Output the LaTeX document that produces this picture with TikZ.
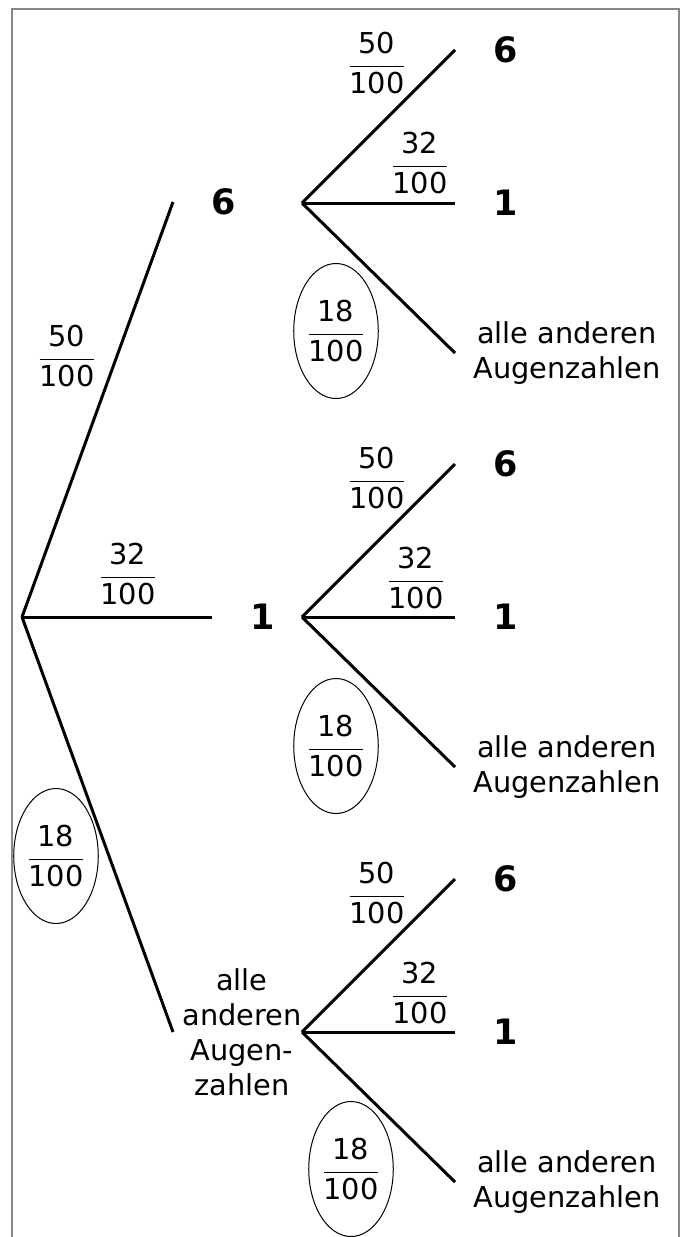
\documentclass[tikz,border=0pt]{standalone}
\usepackage{amsmath}
\usepackage{fontspec}
\setmainfont{DejaVu Sans}
\usepackage{tikz}
\usetikzlibrary{shapes.geometric,positioning}
\usepackage{xcolor}
\definecolor{rahmengrau}{RGB}{136,136,136}
\newcommand{\anteil}[2]{$\dfrac{\text{#1}}{\text{#2}}$}
\tikzstyle{ast} = [line width=1.5pt, black]
\tikzstyle{ergebnis} = [font=\fontsize{17.5}{21}\selectfont\bfseries, anchor=west, inner xsep=19pt, inner ysep=0pt]
\tikzstyle{restbox} = [align=center, anchor=west, inner xsep=9pt, font=\fontsize{14.4}{17.5}\selectfont]
\tikzstyle{wkeit} = [inner sep=0pt, font=\fontsize{14.4}{17.5}\selectfont]
\tikzstyle{kreis} = [wkeit, ellipse, draw, line width=0.5pt, minimum width=38.5pt, minimum height=67.5pt]

\begin{document}
\begin{tikzpicture}[x=0.5pt, y=-0.5pt]
\useasboundingbox (0,0) rectangle (688,1237);
% Rahmen
\draw[rahmengrau, line width=0.6pt] (12,1237) |- (679,9) -- (679,1237);

% erste Stufe
\coordinate (start) at (22,617);
\node (s6) [ergebnis] at (173,202) {6};
\node (s1) [ergebnis] at (212,617) {1};
\node (sR) [restbox, inner xsep=4.5pt] at (173,1032) {alle\\anderen\\Augen-\\zahlen};
\draw[ast] (start) -- (s6.west);
\draw[ast] (start) -- (s1.west);
\draw[ast] (start) -- (sR.west);
\node (l50) [wkeit] at (67,356) {\anteil{50}{100}};
\node (l32) [wkeit] at (128,574) {\anteil{32}{100}};
\node (l18) [kreis] at (56,856) {\anteil{18}{100}};

% zweite Stufe nach 6
\coordinate (k6) at (302,203);
\node (k6a) [ergebnis, above right=76.5pt and 76.5pt of k6, anchor=west] {6};
\node (k6b) [ergebnis, right=76.5pt of k6] {1};
\node (k6c) [restbox, below right=75pt and 76.5pt of k6, anchor=west] {alle anderen\\Augenzahlen};
\draw[ast] (k6) -- (k6a.west);
\draw[ast] (k6) -- (k6b.west);
\draw[ast] (k6) -- (k6c.west);
\node (m6a) [wkeit] at (377,63) {\anteil{50}{100}};
\node (m6b) [wkeit] at (420,163) {\anteil{32}{100}};
\node (m6c) [kreis] at (336,331) {\anteil{18}{100}};

% zweite Stufe nach 1
\coordinate (k1) at (302,617);
\node (k1a) [ergebnis, above right=76.5pt and 76.5pt of k1, anchor=west] {6};
\node (k1b) [ergebnis, right=76.5pt of k1] {1};
\node (k1c) [restbox, below right=75pt and 76.5pt of k1, anchor=west] {alle anderen\\Augenzahlen};
\draw[ast] (k1) -- (k1a.west);
\draw[ast] (k1) -- (k1b.west);
\draw[ast] (k1) -- (k1c.west);
\node (m1a) [wkeit] at (377,478) {\anteil{50}{100}};
\node (m1b) [wkeit] at (416,578) {\anteil{32}{100}};
\node (m1c) [kreis] at (336,746) {\anteil{18}{100}};

% zweite Stufe nach alle anderen
\coordinate (kR) at (302,1032);
\node (kRa) [ergebnis, above right=76.5pt and 76.5pt of kR, anchor=west] {6};
\node (kRb) [ergebnis, right=76.5pt of kR] {1};
\node (kRc) [restbox, below right=75pt and 76.5pt of kR, anchor=west] {alle anderen\\Augenzahlen};
\draw[ast] (kR) -- (kRa.west);
\draw[ast] (kR) -- (kRb.west);
\draw[ast] (kR) -- (kRc.west);
\node (mRa) [wkeit] at (377,893) {\anteil{50}{100}};
\node (mRb) [wkeit] at (420,993) {\anteil{32}{100}};
\node (mRc) [kreis] at (351,1169) {\anteil{18}{100}};
\end{tikzpicture}
\end{document}
